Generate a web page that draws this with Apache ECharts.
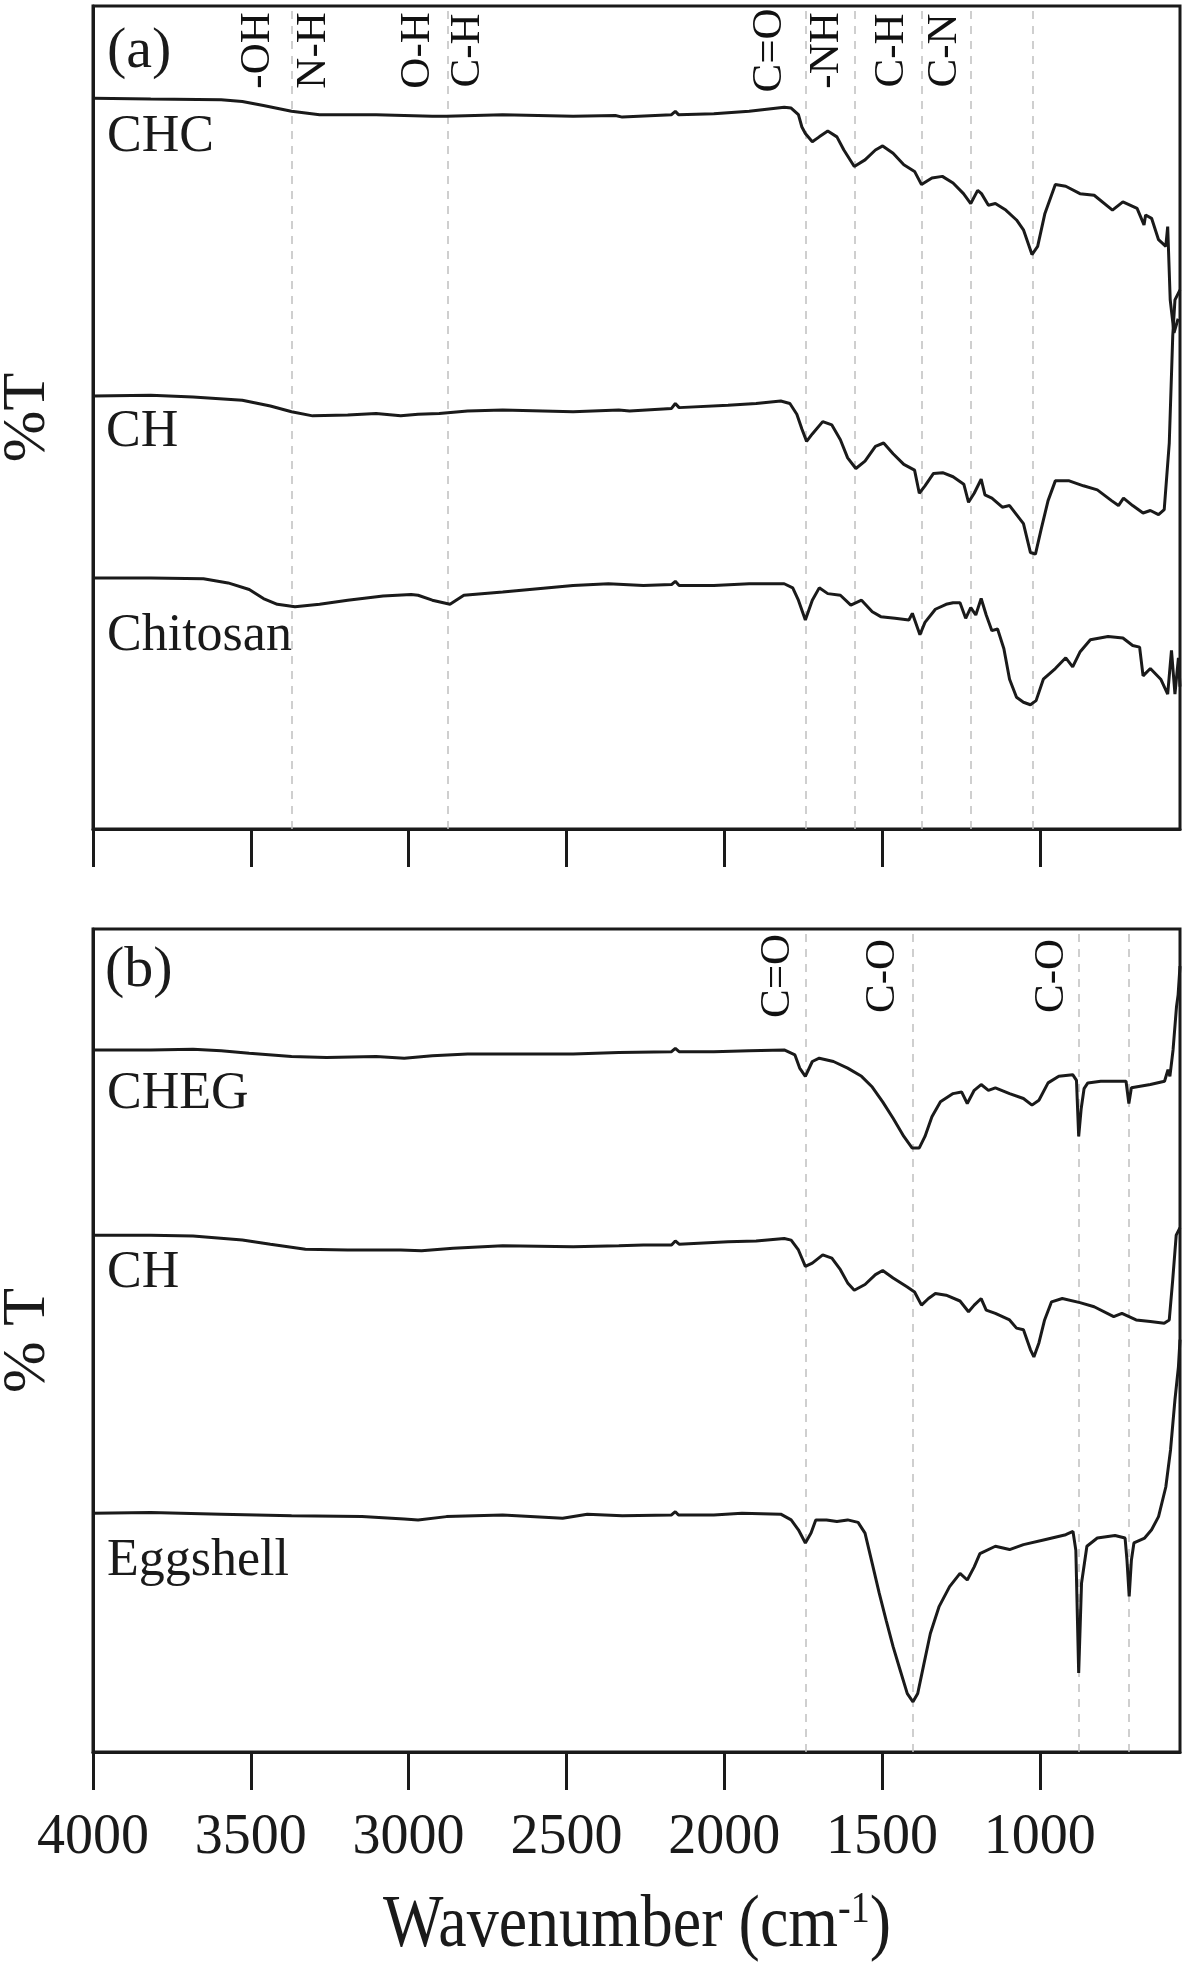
<!DOCTYPE html>
<html><head><meta charset="utf-8">
<script src="https://cdn.jsdelivr.net/npm/echarts@6/dist/echarts.min.js"></script>
<style>html,body{margin:0;padding:0;background:#fff}#c{width:1184px;height:1969px}</style>
</head><body><div id="c"></div>
<script>
// ---- data (wavenumber cm-1, offset %T) ----
const xTicks = [4000,3500,3000,2500,2000,1500,1000];

const chc = [[4000,88.8],[3817,88.7],[3594,88.6],[3527,88.4],[3460,87.9],[3371,87.2],[3282,86.8],[3103,86.8],[2925,86.6],[2880,86.6],[2702,86.8],[2479,86.6],[2345,86.7],[2323,86.5],[2167,86.8],[2155,87.2],[2145,86.8],[2033,86.9],[1921,87.2],[1810,87.7],[1788,87.6],[1765,86.8],[1754,85.3],[1743,84.5],[1721,83.5],[1699,84.1],[1672,84.8],[1643,84.1],[1621,82.5],[1588,80.5],[1554,81.3],[1521,82.5],[1498,83.0],[1465,82.1],[1431,80.7],[1397,79.9],[1375,78.3],[1342,79.1],[1309,79.3],[1275,78.5],[1242,77.2],[1219,76.0],[1197,77.6],[1185,77.2],[1163,75.8],[1141,76.0],[1108,75.2],[1074,74.0],[1052,72.8],[1025,69.8],[1007,70.8],[984,74.8],[951,78.3],[918,78.1],[873,77.2],[828,77.0],[770,75.2],[737,76.2],[692,75.4],[670,73.4],[665,74.6],[646,74.2],[624,71.6],[601,70.8],[595,73.2],[587,64.3],[575,60.3],[562,62.0]];

const chA = [[4000,52.6],[3817,52.7],[3683,52.5],[3527,52.1],[3438,51.4],[3371,50.7],[3304,50.2],[3193,50.3],[3103,50.5],[3025,50.2],[2970,50.4],[2903,50.5],[2813,50.8],[2702,50.9],[2479,50.7],[2334,50.9],[2300,50.8],[2167,51.1],[2155,51.7],[2143,51.2],[1988,51.5],[1899,51.7],[1821,52.0],[1792,51.7],[1770,50.4],[1754,48.6],[1739,47.1],[1721,48.0],[1688,49.5],[1659,49.1],[1632,47.3],[1609,45.1],[1583,43.8],[1554,44.7],[1521,46.5],[1495,46.9],[1465,45.6],[1431,44.3],[1397,43.6],[1382,40.8],[1364,41.7],[1337,43.2],[1308,43.3],[1275,42.8],[1241,41.9],[1226,39.7],[1208,40.8],[1186,42.5],[1174,40.6],[1152,40.2],[1119,39.1],[1096,39.3],[1074,38.2],[1052,37.1],[1030,33.6],[1014,33.4],[996,36.4],[974,39.9],[951,42.3],[907,42.3],[862,41.7],[818,41.2],[773,39.9],[751,39.3],[735,40.2],[706,39.3],[673,38.4],[650,38.7],[624,38.2],[606,38.8],[590,46.9],[579,59.9],[572,64.3],[556,65.5]];

const chitosan = [[4000,30.5],[3817,30.5],[3650,30.4],[3572,29.9],[3505,29.1],[3460,28.0],[3416,27.3],[3360,27.0],[3282,27.3],[3193,27.8],[3081,28.3],[2992,28.5],[2970,28.4],[2925,27.8],[2869,27.3],[2825,28.4],[2702,28.8],[2479,29.6],[2367,29.8],[2256,29.6],[2167,29.7],[2155,30.1],[2143,29.6],[2033,29.6],[1921,29.8],[1810,29.8],[1783,29.3],[1765,27.8],[1743,25.4],[1721,27.8],[1699,29.3],[1672,28.6],[1632,28.4],[1599,27.2],[1565,27.8],[1531,26.4],[1504,25.8],[1459,25.6],[1415,25.4],[1404,26.2],[1380,23.6],[1364,25.1],[1331,26.7],[1297,27.3],[1275,27.5],[1253,27.5],[1235,25.6],[1219,26.9],[1203,26.0],[1186,28.0],[1170,26.0],[1152,24.1],[1134,24.3],[1114,21.9],[1096,18.2],[1074,16.0],[1052,15.4],[1030,15.1],[1012,15.6],[989,18.2],[951,19.5],[918,20.8],[896,19.7],[873,21.5],[840,23.0],[784,23.4],[737,23.2],[706,22.3],[684,22.1],[673,18.6],[650,19.5],[617,18.2],[595,16.4],[583,21.7],[572,16.4],[561,20.8],[556,17.3]];

const cheg = [[4000,85.3],[3817,85.3],[3683,85.4],[3594,85.2],[3505,84.9],[3371,84.5],[3260,84.4],[3103,84.5],[3014,84.3],[2925,84.6],[2813,84.8],[2657,84.8],[2479,84.8],[2334,85.0],[2167,85.1],[2155,85.5],[2143,85.1],[2033,85.1],[1921,85.2],[1810,85.3],[1776,84.7],[1761,83.1],[1743,82.1],[1721,83.9],[1699,84.3],[1654,83.9],[1609,83.1],[1565,82.1],[1531,80.8],[1498,79.0],[1465,77.0],[1431,74.8],[1405,73.4],[1382,73.4],[1364,74.8],[1342,77.2],[1315,79.0],[1275,80.0],[1248,80.2],[1230,78.8],[1208,80.4],[1186,81.1],[1163,80.4],[1141,80.7],[1096,80.0],[1052,79.4],[1025,78.6],[1003,79.2],[974,81.3],[940,82.1],[896,82.3],[884,81.6],[877,74.8],[869,78.2],[860,80.6],[848,81.3],[807,81.5],[727,81.5],[718,78.8],[710,80.7],[650,81.1],[605,81.5],[594,82.9],[588,82.1],[578,85.3],[567,90.6],[562,92.0],[556,95.5]];

const chB = [[4000,62.8],[3817,62.8],[3683,62.7],[3527,62.2],[3438,61.7],[3327,61.1],[3193,61.0],[3025,61.0],[2959,60.9],[2859,61.2],[2702,61.5],[2479,61.4],[2334,61.5],[2256,61.6],[2167,61.6],[2155,62.1],[2143,61.7],[1988,62.0],[1899,62.1],[1810,62.4],[1788,62.2],[1765,61.0],[1743,59.0],[1721,59.4],[1688,60.4],[1659,60.0],[1632,58.6],[1609,57.0],[1588,56.1],[1554,56.8],[1521,58.0],[1498,58.5],[1465,57.6],[1420,56.5],[1397,55.9],[1375,54.3],[1353,55.1],[1331,55.7],[1297,55.5],[1253,54.8],[1226,53.5],[1208,54.3],[1186,55.1],[1170,53.7],[1141,53.3],[1096,52.5],[1074,51.5],[1052,51.3],[1030,48.9],[1019,48.0],[1003,49.7],[985,52.5],[963,54.7],[929,55.1],[873,54.6],[828,54.1],[766,52.9],[740,53.3],[695,52.5],[650,52.3],[606,52.1],[590,52.5],[579,57.4],[568,62.8],[556,63.7]];

const eggshell = [[4000,29.0],[3817,29.1],[3594,28.9],[3371,28.7],[3148,28.6],[3014,28.3],[2970,28.2],[2880,28.6],[2702,28.8],[2512,28.4],[2434,28.9],[2323,28.7],[2167,28.8],[2155,29.2],[2145,28.8],[2033,28.8],[1944,29.0],[1821,28.9],[1788,28.2],[1765,27.0],[1743,25.4],[1725,26.6],[1710,28.2],[1676,28.2],[1643,28.0],[1609,28.2],[1576,27.9],[1554,26.6],[1531,22.9],[1509,19.3],[1487,16.0],[1465,12.8],[1443,10.0],[1420,7.1],[1402,6.1],[1387,7.1],[1369,10.4],[1347,14.4],[1319,17.7],[1286,20.1],[1253,21.7],[1230,20.9],[1208,22.5],[1190,24.1],[1141,25.0],[1096,24.6],[1052,25.2],[985,25.8],[918,26.4],[895,26.8],[886,24.5],[877,9.6],[868,20.5],[851,25.0],[818,26.0],[762,26.3],[730,26.0],[724,23.3],[717,18.9],[710,23.3],[702,25.4],[668,26.0],[646,27.0],[624,28.6],[601,32.2],[586,36.7],[572,42.8],[561,46.8],[556,50.1]];

const bandsA = [3371,2876,1743,1587,1375,1220,1024];
const bandsB = [1743,1403,876,718];
const annA = [['-OH',3478],['N-H',3302],['O-H',2971],['C-H',2814],['C=O',1855],['-NH',1674],['C-H',1471],['C-N',1303]];
const annB = [['C=O',1832],['C-O',1498],['C-O',962]];

// ---- styling ----
const FONT = "'Liberation Serif','Times New Roman',serif";
const INK = '#1a1a1a';
const X_MIN = 556, X_MAX = 4000;

function xAxis(idx, showLabels) {
  return {
    type: 'value', gridIndex: idx, inverse: true, min: X_MIN, max: X_MAX,
    axisLine: {show: true, onZero: false, lineStyle: {color: INK, width: 3}},
    axisTick: {show: true, inside: false, length: 38, customValues: xTicks, lineStyle: {color: INK, width: 3}},
    axisLabel: {show: showLabels, customValues: xTicks, margin: 58, fontSize: 56, fontFamily: FONT, color: INK,
      formatter: v => String(v)},
    splitLine: {show: false}
  };
}
function yAxis(idx, name) {
  return {
    type: 'value', gridIndex: idx, min: 0, max: 100,
    axisLine: {show: true, lineStyle: {color: INK, width: 3}},
    axisTick: {show: false}, axisLabel: {show: false}, splitLine: {show: false},
    name: name, nameLocation: 'middle', nameRotate: 90, nameGap: 34,
    nameTextStyle: {fontSize: 62, fontFamily: FONT, color: INK}
  };
}
function curve(data, idx) {
  return {type: 'line', xAxisIndex: idx, yAxisIndex: idx, data: data, showSymbol: false, symbol: 'none',
    silent: true, z: 3, lineStyle: {color: INK, width: 3}};
}
function annot(list, bands, idx, yPos) {
  return {
    type: 'scatter', xAxisIndex: idx, yAxisIndex: idx, silent: true, z: 4,
    symbolSize: 1, itemStyle: {color: 'rgba(0,0,0,0)'},
    data: list.map(a => [a[1], yPos, a[0]]),
    label: {show: true, position: 'inside', rotate: 90, align: 'center', verticalAlign: 'middle',
      formatter: p => p.value[2], fontSize: 43, fontFamily: FONT, color: '#111', opacity: 1,
      textBorderWidth: 0},
    markLine: {silent: true, symbol: 'none', z: 1, label: {show: false},
      lineStyle: {type: [8, 7], color: '#c0c0c0', width: 1.5},
      data: bands.map(b => ({xAxis: b}))}
  };
}
function txt(s, x, y, size) {
  return {type: 'text', x: x, y: y, silent: true,
    style: {text: s, font: size + 'px ' + FONT, fill: INK, textAlign: 'left', textVerticalAlign: 'middle'}};
}

const chart = echarts.init(document.getElementById('c'), null, {renderer: 'canvas'});
const gridBase = {left: 93, width: 1087, height: 823, show: true, borderColor: INK, borderWidth: 3,
  backgroundColor: 'transparent', containLabel: false, outerBoundsMode: 'none'};
chart.setOption({
  animation: false,
  backgroundColor: '#fff',
  grid: [Object.assign({top: 6}, gridBase), Object.assign({top: 929}, gridBase)],
  xAxis: [xAxis(0, false), xAxis(1, true)],
  yAxis: [yAxis(0, '%T'), yAxis(1, '% T')],
  series: [
    curve(chc, 0), curve(chA, 0), curve(chitosan, 0),
    curve(cheg, 1), curve(chB, 1), curve(eggshell, 1),
    annot(annA, bandsA, 0, 94.6), annot(annB, bandsB, 1, 94.3)
  ],
  graphic: [
    txt('(a)', 107, 52, 58),
    txt('CHC', 107, 137, 52),
    txt('CH', 106, 432, 52),
    txt('Chitosan', 107, 636, 52),
    txt('(b)', 105, 971, 58),
    txt('CHEG', 107, 1094, 52),
    txt('CH', 107, 1273, 52),
    txt('Eggshell', 107, 1561, 52),
    {type: 'text', x: 637, y: 1926, scaleY: 1.17, silent: true,
      style: {text: '{a|Wavenumber (cm}{s|-1}{a|)}', fill: INK, textAlign: 'center', textVerticalAlign: 'middle',
        rich: {a: {fontSize: 64, fontFamily: FONT, fill: INK, color: INK},
               s: {fontSize: 38, fontFamily: FONT, fill: INK, color: INK, verticalAlign: 'top'}}}}
  ]
});
</script></body></html>
